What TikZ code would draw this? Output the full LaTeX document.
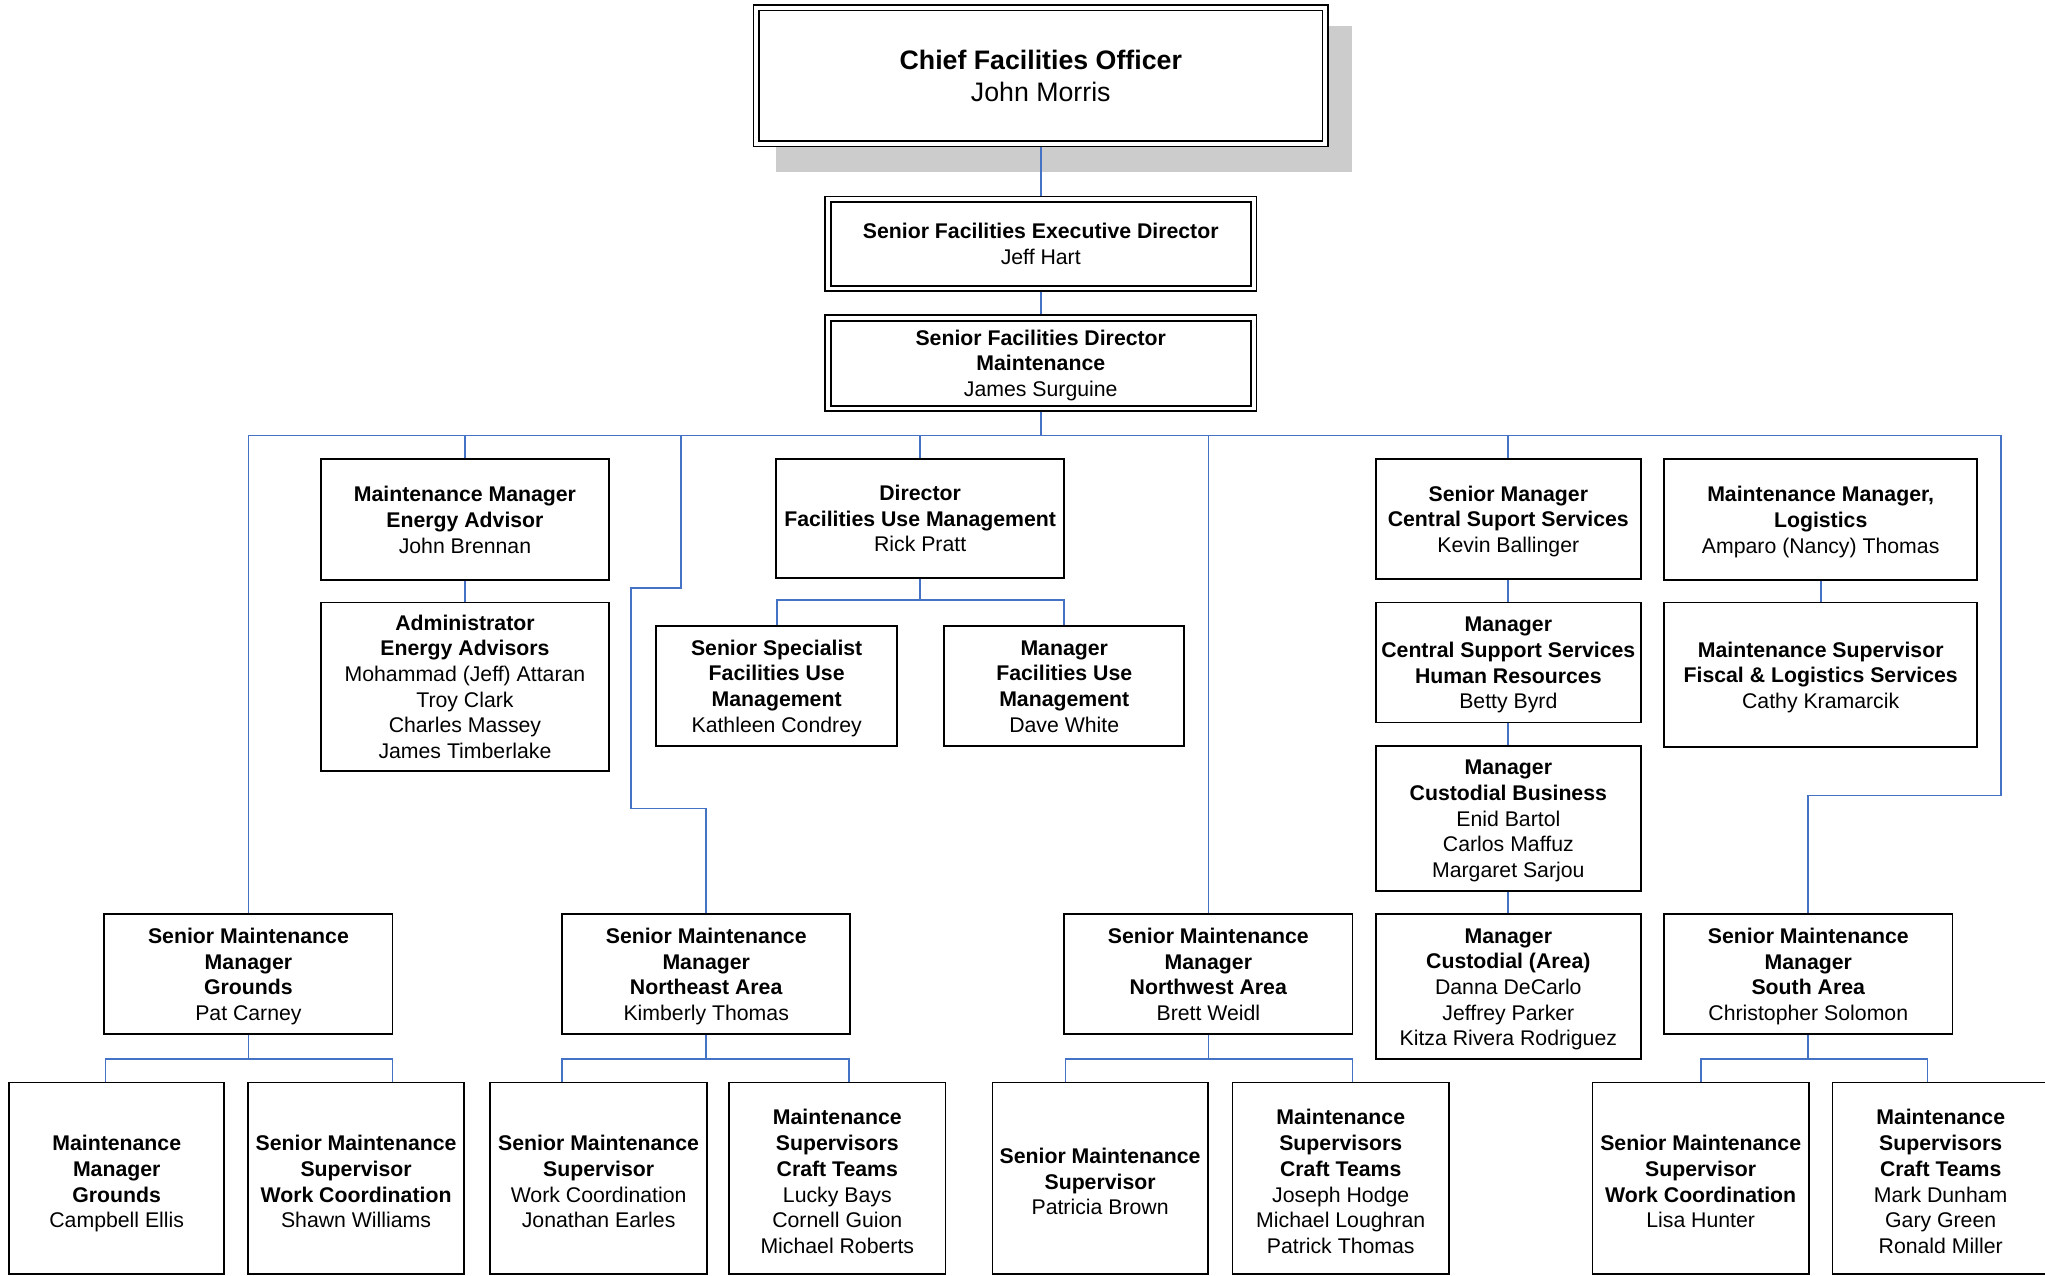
\documentclass[tikz,border=0pt]{standalone}
\usepackage{fontspec}
\setmainfont{Liberation Sans}
\usetikzlibrary{calc}
\definecolor{linkblue}{RGB}{68,114,196}
\pgfdeclarelayer{bg}
\pgfsetlayers{bg,main}
\newcommand{\sTop}{\rule{0pt}{15.9pt}}
\newcommand{\sLow}{\rule{0pt}{20.6pt}}
\newcommand{\sBot}{\rule[-4pt]{0pt}{4pt}}
\newcommand{\sCTop}{\rule{0pt}{20pt}}
\newcommand{\sCBot}{\rule[-5pt]{0pt}{5pt}}
\begin{document}
\begin{tikzpicture}[x=1pt,y=-1pt,
  box/.style={draw=black, line width=1.4pt, fill=white, inner sep=0pt, align=center,
    font=\fontsize{16.3}{19.7}\selectfont},
  dbox/.style={box, line width=1.3pt, double=white, double distance=3pt},
  wh/.style 2 args={minimum width=#1pt, minimum height=#2pt},
  conn/.style={draw=linkblue, line width=1.3pt},
]
\useasboundingbox (0,0) rectangle (1568,978);

% top chain
\node[dbox, wh={436.4}{104.4}, font=\fontsize{20.5}{25}\selectfont] (cfo) at (798,58)
  {\sCTop\textbf{Chief Facilities Officer}\\John Morris\sCBot};
\node[dbox, wh={326.4}{68.4}] (sfed) at (798,187)
  {\sTop\textbf{Senior Facilities Executive Director}\\Jeff Hart\sBot};
\node[dbox, wh={326.4}{69.4}] (sfdm) at (798,278.5)
  {\sTop\textbf{Senior Facilities Director}\\\textbf{Maintenance}\\James Surguine\sBot};

% second level
\node[box, wh={221}{93}] (ea) at (356.5,398.5)
  {\sTop\textbf{Maintenance Manager}\\\textbf{Energy Advisor}\\John Brennan\sBot};
\node[box, wh={221}{129}] (adm) at (356.5,526.5)
  {\sTop\textbf{Administrator}\\\textbf{Energy Advisors}\\Mohammad (Jeff) Attaran\\Troy Clark\\Charles Massey\\James Timberlake\sBot};
\node[box, wh={221}{91}] (dir) at (705.5,397.5)
  {\sTop\textbf{Director}\\\textbf{Facilities Use Management}\\Rick Pratt\sBot};
\node[box, wh={185}{92}] (ssf) at (595.5,526)
  {\sTop\textbf{Senior Specialist}\\\textbf{Facilities Use}\\\textbf{Management}\\Kathleen Condrey\sBot};
\node[box, wh={184}{92}] (mfu) at (816,526)
  {\sTop\textbf{Manager}\\\textbf{Facilities Use}\\\textbf{Management}\\Dave White\sBot};
\node[box, wh={203}{92}] (smc) at (1156.5,398)
  {\sTop\textbf{Senior Manager}\\\textbf{Central Suport Services}\\Kevin Ballinger\sBot};
\node[box, wh={203}{92}] (csh) at (1156.5,508)
  {\sTop\textbf{Manager}\\\textbf{Central Support Services}\\\textbf{Human Resources}\\Betty Byrd\sBot};
\node[box, wh={203}{111}] (cub) at (1156.5,627.5)
  {\sTop\textbf{Manager}\\\textbf{Custodial Business}\\Enid Bartol\\Carlos Maffuz\\Margaret Sarjou\sBot};
\node[box, wh={203}{111}] (cua) at (1156.5,756.5)
  {\sTop\textbf{Manager}\\\textbf{Custodial (Area)}\\Danna DeCarlo\\Jeffrey Parker\\Kitza Rivera Rodriguez\sBot};
\node[box, wh={240}{93}] (mml) at (1396,398.5)
  {\sTop\textbf{Maintenance Manager,}\\\textbf{Logistics}\\Amparo (Nancy) Thomas\sBot};
\node[box, wh={240}{111}] (msf) at (1396,517.5)
  {\sTop\textbf{Maintenance Supervisor}\\\textbf{Fiscal \& Logistics Services}\\Cathy Kramarcik\sBot};

% area managers
\node[box, wh={221}{92}] (gr) at (190.5,747)
  {\sTop\textbf{Senior Maintenance}\\\textbf{Manager}\\\textbf{Grounds}\\Pat Carney\sBot};
\node[box, wh={221}{92}] (ne) at (541.5,747)
  {\sTop\textbf{Senior Maintenance}\\\textbf{Manager}\\\textbf{Northeast Area}\\Kimberly Thomas\sBot};
\node[box, wh={221}{92}] (nw) at (926.5,747)
  {\sTop\textbf{Senior Maintenance}\\\textbf{Manager}\\\textbf{Northwest Area}\\Brett Weidl\sBot};
\node[box, wh={221}{92}] (so) at (1386.5,747)
  {\sTop\textbf{Senior Maintenance}\\\textbf{Manager}\\\textbf{South Area}\\Christopher Solomon\sBot};

% bottom row
\node[box, wh={165}{147}] (b1) at (89.5,903.5)
  {\sLow\textbf{Maintenance}\\\textbf{Manager}\\\textbf{Grounds}\\Campbell Ellis\sBot};
\node[box, wh={166}{147}] (b2) at (273,903.5)
  {\sLow\textbf{Senior Maintenance}\\\textbf{Supervisor}\\\textbf{Work Coordination}\\Shawn Williams\sBot};
\node[box, wh={166}{147}] (b3) at (459,903.5)
  {\sLow\textbf{Senior Maintenance}\\\textbf{Supervisor}\\Work Coordination\\Jonathan Earles\sBot};
\node[box, wh={166}{147}] (b4) at (642,903.5)
  {\sLow\textbf{Maintenance}\\\textbf{Supervisors}\\\textbf{Craft Teams}\\Lucky Bays\\Cornell Guion\\Michael Roberts\sBot};
\node[box, wh={165}{147}] (b5) at (843.5,903.5)
  {\sLow\textbf{Senior Maintenance}\\\textbf{Supervisor}\\Patricia Brown\sBot};
\node[box, wh={166}{147}] (b6) at (1028,903.5)
  {\sLow\textbf{Maintenance}\\\textbf{Supervisors}\\\textbf{Craft Teams}\\Joseph Hodge\\Michael Loughran\\Patrick Thomas\sBot};
\node[box, wh={166}{147}] (b7) at (1304,903.5)
  {\sLow\textbf{Senior Maintenance}\\\textbf{Supervisor}\\\textbf{Work Coordination}\\Lisa Hunter\sBot};
\node[box, wh={166}{147}] (b8) at (1488,903.5)
  {\sLow\textbf{Maintenance}\\\textbf{Supervisors}\\\textbf{Craft Teams}\\Mark Dunham\\Gary Green\\Ronald Miller\sBot};

% helper coordinates
\coordinate (busL) at (191,334);
\coordinate (busR) at (1534,334);
\coordinate (ne1) at (522,334);
\coordinate (ne2) at (522,451);
\coordinate (ne3) at (484,451);
\coordinate (ne4) at (484,620);
\coordinate (so1) at (1534,610);
\coordinate (dj) at (705.5,460);
\coordinate (grj) at (190.5,812);
\coordinate (nej) at (541.5,812);
\coordinate (nwj) at (926.5,812);
\coordinate (soj) at (1386.5,812);
\coordinate (x81) at (81,0);
\coordinate (x301) at (301,0);
\coordinate (x431) at (431,0);
\coordinate (x651) at (651,0);
\coordinate (x817) at (817,0);
\coordinate (x1037) at (1037,0);
\coordinate (x1304) at (1304,0);
\coordinate (x1478) at (1478,0);

\begin{pgfonlayer}{bg}
\fill[white] (0,0) rectangle (1568,978);
\fill[gray!40] (595,20) rectangle (1037,132);
\draw[conn] (cfo.south) -- (sfed.north);
\draw[conn] (sfed.south) -- (sfdm.north);
\draw[conn] (sfdm.south) -- (sfdm.south |- busL);
\draw[conn] (gr.north) |- (busR) -- (so1) -| (so.north);
\draw[conn] (ea.north |- busL) -- (ea.north);
\draw[conn] (dir.north |- busL) -- (dir.north);
\draw[conn] (nw.north |- busL) -- (nw.north);
\draw[conn] (smc.north |- busL) -- (smc.north);
\draw[conn] (ne1) -- (ne2) -- (ne3) -- (ne4) -| (ne.north);
\draw[conn] (ea.south) -- (adm.north);
\draw[conn] (dir.south) -- (dj);
\draw[conn] (ssf.north) |- (dj) -| (mfu.north);
\draw[conn] (smc.south) -- (csh.north);
\draw[conn] (csh.south) -- (cub.north);
\draw[conn] (cub.south) -- (cua.north);
\draw[conn] (mml.south) -- (msf.north);
\draw[conn] (gr.south) -- (grj);
\draw[conn] (b1.north -| x81) |- (grj) -| (b2.north -| x301);
\draw[conn] (ne.south) -- (nej);
\draw[conn] (b3.north -| x431) |- (nej) -| (b4.north -| x651);
\draw[conn] (nw.south) -- (nwj);
\draw[conn] (b5.north -| x817) |- (nwj) -| (b6.north -| x1037);
\draw[conn] (so.south) -- (soj);
\draw[conn] (b7.north -| x1304) |- (soj) -| (b8.north -| x1478);
\end{pgfonlayer}
\end{tikzpicture}
\end{document}
